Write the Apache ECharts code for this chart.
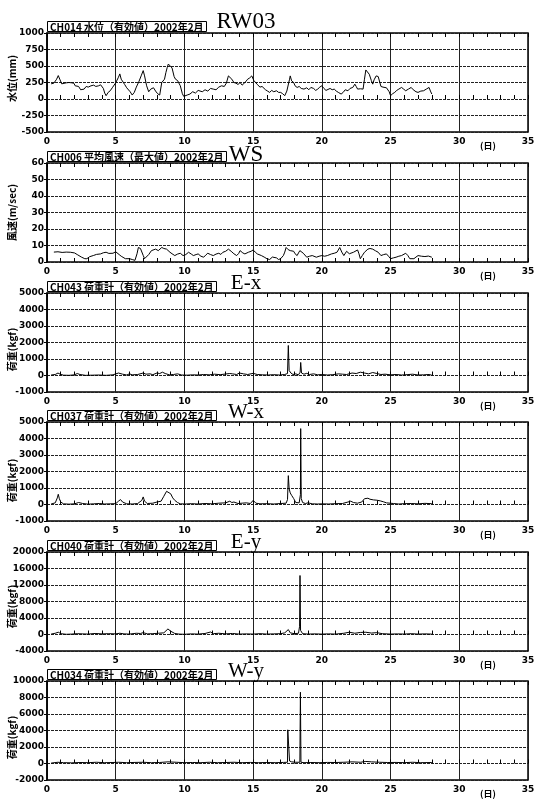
<!DOCTYPE html>
<html>
<head>
<meta charset="utf-8">
<script src="https://cdn.jsdelivr.net/npm/echarts@6/dist/echarts.min.js"></script>
<style>
  html, body { margin: 0; padding: 0; background: #fff; }
  #chart { width: 537px; height: 800px; }
</style>
</head>
<body>
<div id="chart"></div>
<script>
// Day-axis ticks (February 2002, in days)
const dayMin = 0;
const dayMax = 35;
const dayStep = 5;

// Panel captions
const stationLabels = ['RW03', 'WS', 'E-x', 'W-x', 'E-y', 'W-y'];
const channelHeads = [
  'CH014 水位（有効値）2002年2月',
  'CH006 平均風速（最大値）2002年2月',
  'CH043 荷重計（有効値）2002年2月',
  'CH037 荷重計（有効値）2002年2月',
  'CH040 荷重計（有効値）2002年2月',
  'CH034 荷重計（有効値）2002年2月'
];
const yNames = ['水位(mm)', '風速(m/sec)', '荷重(kgf)', '荷重(kgf)', '荷重(kgf)', '荷重(kgf)'];
const yMins = [-500, 0, -1000, -1000, -4000, -2000];
const yMaxs = [1000, 60, 5000, 5000, 20000, 10000];
const ySteps = [250, 10, 1000, 1000, 4000, 2000];

// Water level (mm): [day, value]
const waterLevel = [
  [0.3,230],[0.5,240],[0.7,300],[0.82,355],[0.95,290],[1.07,230],[1.2,250],[1.4,245],[1.6,250],[1.8,245],
  [1.95,240],[2.05,200],[2.15,175],[2.3,190],[2.45,140],[2.55,120],[2.7,150],[2.85,190],[3.0,180],[3.2,200],
  [3.4,210],[3.55,190],[3.75,200],[3.9,215],[4.0,225],[4.1,160],[4.2,90],[4.3,50],[4.45,100],[4.6,125],
  [4.75,170],[4.85,180],[5.0,245],[5.1,250],[5.2,330],[5.3,380],[5.4,300],[5.5,280],[5.65,220],[5.8,170],
  [5.9,150],[6.05,110],[6.2,60],[6.35,100],[6.5,180],[6.7,270],[6.85,350],[7.0,430],[7.1,350],[7.25,200],
  [7.4,110],[7.55,150],[7.75,170],[7.9,120],[8.05,80],[8.2,60],[8.35,250],[8.45,260],[8.55,300],[8.65,400],
  [8.75,480],[8.83,530],[8.95,500],[9.1,470],[9.25,340],[9.35,300],[9.5,280],[9.6,270],[9.7,200],[9.85,80],
  [9.95,40],[10.05,10],[10.2,60],[10.4,75],[10.6,110],[10.8,90],[11.0,130],[11.1,150],[11.3,110],[11.5,140],
  [11.7,120],[11.9,160],[12.1,150],[12.3,140],[12.5,180],[12.7,200],[12.9,190],[13.05,240],[13.2,350],[13.3,330],
  [13.45,300],[13.6,250],[13.75,240],[13.9,220],[14.05,250],[14.2,210],[14.3,225],[14.45,260],[14.6,300],[14.75,320],
  [14.9,350],[15.05,280],[15.15,250],[15.3,220],[15.5,180],[15.65,190],[15.75,175],[15.9,140],[16.05,120],[16.2,100],
  [16.35,130],[16.5,110],[16.7,125],[16.85,100],[17.0,100],[17.15,80],[17.3,50],[17.45,120],[17.55,150],[17.65,300],
  [17.7,350],[17.8,275],[17.95,250],[18.05,200],[18.2,175],[18.35,190],[18.5,160],[18.7,150],[18.9,170],[19.05,140],
  [19.2,175],[19.4,160],[19.55,130],[19.7,150],[19.85,180],[20.0,200],[20.15,160],[20.3,130],[20.4,125],[20.6,160],
  [20.75,140],[20.9,150],[21.05,120],[21.2,100],[21.4,75],[21.55,100],[21.7,140],[21.9,125],[22.05,160],[22.25,175],
  [22.4,225],[22.5,190],[22.6,150],[22.8,155],[23.0,150],[23.1,300],[23.2,440],[23.3,410],[23.45,375],[23.6,280],
  [23.7,225],[23.8,290],[23.95,350],[24.1,340],[24.2,325],[24.3,190],[24.45,180],[24.55,175],[24.7,170],[24.8,175],
  [24.9,110],[25.0,50],[25.15,80],[25.3,100],[25.45,130],[25.6,150],[25.8,175],[25.95,150],[26.1,125],[26.3,150],
  [26.5,175],[26.65,140],[26.85,110],[27.0,100],[27.2,120],[27.4,125],[27.6,150],[27.8,175],[27.9,120],[28.0,75]
];

// Mean wind speed (m/sec)
const windSpeed = [
  [0.5,6],[0.8,6.2],[1.1,5.8],[1.4,6],[1.7,5.9],[2.0,5.5],[2.2,4.5],[2.5,3],[2.75,2],[2.9,2],
  [3.1,3.2],[3.4,4],[3.6,4.6],[3.9,4.9],[4.1,5.6],[4.3,5.9],[4.5,5.2],[4.8,5.3],[5.0,6.2],[5.1,6.9],
  [5.25,4.5],[5.4,3.5],[5.7,2],[6.0,2],[6.2,1.5],[6.4,1],[6.55,5],[6.65,8.8],[6.8,8.2],[6.9,7.8],
  [7.0,4],[7.1,2],[7.2,1.4],[7.4,4.5],[7.6,6.9],[7.9,7.8],[8.1,6.9],[8.2,7.5],[8.35,8.8],[8.5,8.2],
  [8.7,7.8],[8.95,5.9],[9.1,5],[9.3,3.9],[9.5,4.8],[9.7,5.3],[9.9,3.9],[10.1,4.5],[10.3,5.9],[10.5,4.8],
  [10.65,3.9],[10.85,4.5],[11.0,4.9],[11.2,3.5],[11.4,2.9],[11.55,4.2],[11.7,5.3],[11.9,4.5],[12.1,3.9],[12.3,4.8],
  [12.5,5.3],[12.65,4.6],[12.8,5.9],[13.0,6.5],[13.2,7.8],[13.4,6.5],[13.6,5],[13.8,3.9],[13.95,5.2],[14.05,6.9],
  [14.25,5.5],[14.4,4.9],[14.65,5.9],[14.85,6.5],[15.0,7.3],[15.15,6],[15.3,4.9],[15.6,3.9],[15.8,3],[16.0,2],
  [16.2,1.5],[16.4,3],[16.7,2.5],[16.85,1.5],[17.0,2],[17.2,3.9],[17.3,6],[17.4,8.8],[17.55,7.5],[17.7,6.9],
  [17.95,6.5],[18.05,5],[18.2,3.9],[18.3,5.5],[18.4,6.9],[18.65,5.3],[18.9,2.9],[19.1,3.5],[19.3,3.9],[19.6,2.9],
  [19.8,3.5],[20.0,3.9],[20.2,3.5],[20.4,3.9],[20.7,4.9],[20.9,5.3],[21.1,5.9],[21.2,7],[21.3,8.8],[21.45,6],
  [21.6,3.9],[21.8,6.5],[22.0,5],[22.1,3.9],[22.3,5.9],[22.6,7.3],[22.7,5],[22.8,2],[22.95,4],[23.1,5.9],
  [23.35,7.8],[23.5,8.2],[23.7,7.8],[23.9,6.8],[24.1,5.9],[24.3,3.9],[24.5,4.5],[24.7,4.9],[24.85,3.5],[25.0,2],
  [25.2,2.5],[25.4,2.9],[25.6,3.5],[25.8,3.9],[26.1,5.3],[26.25,4],[26.4,2],[26.7,2],[26.85,3],[27.0,3.9],
  [27.25,3.5],[27.5,3.3],[27.75,3.6],[28.0,2.9]
];

// Load cell CH043 (kgf)
const loadEx = [
  [0.3,30],[0.6,60],[0.8,150],[0.95,80],[1.2,20],[1.6,10],[2.0,40],[2.2,120],[2.4,60],[2.8,10],
  [3.3,20],[3.8,30],[4.3,10],[4.8,40],[5.2,150],[5.5,80],[5.8,30],[6.0,100],[6.2,40],[6.6,60],
  [7.0,150],[7.2,80],[7.5,100],[7.7,50],[8.0,150],[8.2,120],[8.4,200],[8.6,120],[8.9,40],[9.2,60],
  [9.5,100],[9.8,30],[10.2,20],[10.6,40],[11.0,30],[11.4,60],[11.8,40],[12.2,80],[12.6,50],[13.0,90],
  [13.3,120],[13.5,100],[13.8,60],[14.0,150],[14.3,100],[14.6,60],[15.0,130],[15.3,60],[15.7,40],[16.1,30],
  [16.5,50],[16.9,30],[17.3,60],[17.5,120],[17.56,1820],[17.62,300],[17.75,150],[17.9,60],[18.1,100],[18.3,40],
  [18.42,200],[18.46,790],[18.52,150],[18.7,80],[18.9,130],[19.1,60],[19.4,100],[19.7,40],[20.0,60],[20.4,30],
  [20.8,50],[21.2,100],[21.5,80],[21.8,60],[22.2,150],[22.5,120],[22.8,200],[23.1,150],[23.4,100],[23.7,180],
  [24.0,120],[24.3,60],[24.6,80],[25.0,40],[25.4,60],[25.8,30],[26.2,50],[26.6,80],[27.0,30],[27.4,40],
  [27.8,60],[28.0,20]
];

// Load cell CH037 (kgf)
const loadWx = [
  [0.3,30],[0.6,100],[0.75,400],[0.82,620],[0.9,350],[1.0,150],[1.2,40],[1.6,20],[2.0,40],[2.3,120],
  [2.4,200],[2.6,60],[3.0,20],[3.4,40],[3.8,60],[4.2,30],[4.6,40],[5.0,50],[5.2,200],[5.35,300],
  [5.5,150],[5.8,40],[6.2,30],[6.6,60],[6.9,250],[7.0,460],[7.1,200],[7.3,60],[7.7,80],[8.0,150],
  [8.3,200],[8.5,500],[8.7,800],[8.8,910],[9.0,650],[9.15,400],[9.3,250],[9.5,120],[9.7,40],[10.1,30],
  [10.5,50],[11.0,30],[11.5,60],[12.0,40],[12.5,80],[13.0,100],[13.3,200],[13.45,120],[13.6,150],[13.9,60],
  [14.2,80],[14.5,100],[14.8,60],[15.0,250],[15.2,80],[15.5,40],[16.0,50],[16.5,30],[17.0,60],[17.4,80],
  [17.5,300],[17.56,1750],[17.62,950],[17.7,700],[17.8,555],[17.95,360],[18.1,120],[18.2,60],[18.35,100],[18.44,600],
  [18.46,4600],[18.5,360],[18.6,120],[18.8,60],[19.0,100],[19.3,40],[19.7,30],[20.0,40],[20.5,30],[21.0,50],
  [21.5,60],[21.9,150],[22.1,200],[22.3,120],[22.6,80],[22.9,150],[23.1,350],[23.2,460],[23.35,380],[23.5,320],
  [23.75,280],[24.0,260],[24.25,220],[24.5,160],[24.7,100],[24.8,40],[25.2,60],[25.6,30],[26.0,50],[26.5,60],
  [27.0,40],[27.5,70],[28.0,50]
];

// Load cell CH040 (kgf)
const loadEy = [
  [0.3,100],[0.6,300],[0.82,560],[1.0,200],[1.4,50],[1.8,100],[2.2,200],[2.6,150],[3.0,100],[3.5,250],
  [4.0,150],[4.5,200],[5.0,150],[5.3,300],[5.6,150],[6.0,100],[6.5,300],[6.8,250],[7.0,450],[7.3,150],
  [7.7,200],[8.1,300],[8.5,400],[8.8,1350],[9.0,800],[9.3,250],[9.6,100],[10.0,50],[10.5,150],[11.0,100],
  [11.5,250],[11.9,600],[12.1,200],[12.5,300],[13.0,150],[13.5,250],[14.0,100],[14.5,150],[15.0,100],[15.5,200],
  [16.0,100],[16.5,150],[17.0,200],[17.3,400],[17.56,1190],[17.7,400],[18.0,200],[18.3,300],[18.38,2000],[18.41,14300],
  [18.45,1000],[18.6,200],[19.0,100],[19.5,150],[20.0,100],[20.5,150],[21.0,100],[21.6,300],[22.0,550],[22.4,300],
  [22.8,500],[23.2,550],[23.6,350],[24.0,450],[24.4,200],[25.0,100],[25.5,150],[26.0,100],[26.5,200],[27.0,100],
  [27.5,150],[28.0,100]
];

// Load cell CH034 (kgf)
const loadWy = [
  [0.3,50],[0.8,150],[1.2,100],[1.8,80],[2.4,120],[3.0,100],[3.6,150],[4.2,100],[4.8,120],[5.2,150],
  [5.8,100],[6.4,130],[7.0,150],[7.6,100],[8.2,120],[8.8,200],[9.4,150],[10.0,100],[10.6,120],[11.2,100],
  [11.8,150],[12.4,100],[13.0,120],[13.6,150],[14.2,100],[14.8,130],[15.4,100],[16.0,120],[16.6,100],[17.2,130],
  [17.5,150],[17.52,4080],[17.62,4080],[17.65,300],[17.8,200],[18.1,150],[18.4,150],[18.44,8640],[18.48,150],[18.7,100],
  [19.2,120],[19.8,100],[20.4,130],[21.0,120],[21.6,150],[22.2,200],[22.8,150],[23.2,250],[23.6,200],[24.2,150],
  [24.8,120],[25.4,130],[26.0,100],[26.6,150],[27.2,100],[28.0,120]
];

const seriesData = [waterLevel, windSpeed, loadEx, loadWx, loadEy, loadWy];

// Layout of the six stacked panels
const plotLeft = 47;
const plotWidth = 481;
const plotHeight = 99;
const plotTops = [33, 163, 293, 422, 552, 681];
const nameShift = [-4, 0, 7, 9, 5, 7];

const ink = '#000';
const tickFont = { fontSize: 9, fontWeight: 'bold', color: ink, fontFamily: 'DejaVu Sans' };
const plainNumber = v => String(v);

const grids = [], xAxes = [], yAxes = [], series = [], titles = [], texts = [];

plotTops.forEach((top, i) => {
  grids.push({
    left: plotLeft, top: top, width: plotWidth, height: plotHeight,
    containLabel: false, outerBoundsMode: 'none',
    show: true, borderColor: ink, borderWidth: 1.5, backgroundColor: '#fff'
  });

  // bottom day axis with labels, vertical grid lines and inward day ticks
  xAxes.push({
    gridIndex: i, type: 'value', position: 'bottom',
    min: dayMin, max: dayMax, interval: dayStep,
    axisLine: { show: false },
    axisTick: { show: true, inside: true, length: 4, lineStyle: { color: ink } },
    minorTick: { show: true, splitNumber: 5, length: 4, lineStyle: { color: ink } },
    axisLabel: Object.assign({ margin: 5, formatter: plainNumber }, tickFont),
    splitLine: { show: true, lineStyle: { color: '#222', width: 1 } }
  });
  // top day axis: inward ticks only
  xAxes.push({
    gridIndex: i, type: 'value', position: 'top',
    min: dayMin, max: dayMax, interval: dayStep,
    axisLine: { show: false },
    axisTick: { show: true, inside: true, length: 4, lineStyle: { color: ink } },
    minorTick: { show: true, splitNumber: 5, length: 4, lineStyle: { color: ink } },
    axisLabel: { show: false },
    splitLine: { show: false }
  });

  yAxes.push({
    gridIndex: i, type: 'value',
    min: yMins[i], max: yMaxs[i], interval: ySteps[i],
    axisLine: { show: true, lineStyle: { color: ink, width: 1.5 } },
    axisTick: { show: true, length: 3, lineStyle: { color: ink } },
    axisLabel: Object.assign({ margin: 3, formatter: plainNumber }, tickFont),
    splitLine: { show: true, lineStyle: { color: '#222', width: 1, type: [3, 1] } }
  });

  series.push({
    type: 'line', xAxisIndex: i * 2, yAxisIndex: i,
    data: seriesData[i], showSymbol: false, animation: false,
    lineStyle: { color: ink, width: 1 }
  });

  // vertical quantity name beside the value axis
  texts.push({
    type: 'text', x: 12, y: top + plotHeight / 2 + nameShift[i], rotation: Math.PI / 2,
    style: {
      text: yNames[i], align: 'center', verticalAlign: 'middle',
      fontSize: 10, fontWeight: 'bold', fill: ink, fontFamily: 'Noto Sans CJK JP'
    }
  });

  // channel caption box above the plot
  titles.push({
    text: channelHeads[i], left: plotLeft, top: top - 12,
    borderColor: ink, borderWidth: 1, padding: [1, 3, 0, 3],
    textStyle: { fontSize: 10, fontWeight: 'bold', color: ink, fontFamily: 'Noto Sans CJK JP', lineHeight: 10 }
  });
  // station name
  titles.push({
    text: stationLabels[i], left: 246, textAlign: 'center',
    top: top - (i === 0 ? 23 : 20), padding: 0,
    textStyle: { fontSize: i < 2 ? 23 : 21, fontWeight: 'normal', color: ink, fontFamily: 'Liberation Serif' }
  });
  // day unit
  titles.push({
    text: '(日)', left: 480, top: top + plotHeight + 9, padding: 0,
    textStyle: { fontSize: 9, fontWeight: 'bold', color: ink, fontFamily: 'Noto Sans CJK JP' }
  });
});

const chart = echarts.init(document.getElementById('chart'), null, { renderer: 'canvas' });
chart.setOption({
  backgroundColor: '#fff',
  animation: false,
  title: titles,
  grid: grids,
  xAxis: xAxes,
  yAxis: yAxes,
  series: series,
  graphic: { elements: texts }
});
</script>
</body>
</html>
